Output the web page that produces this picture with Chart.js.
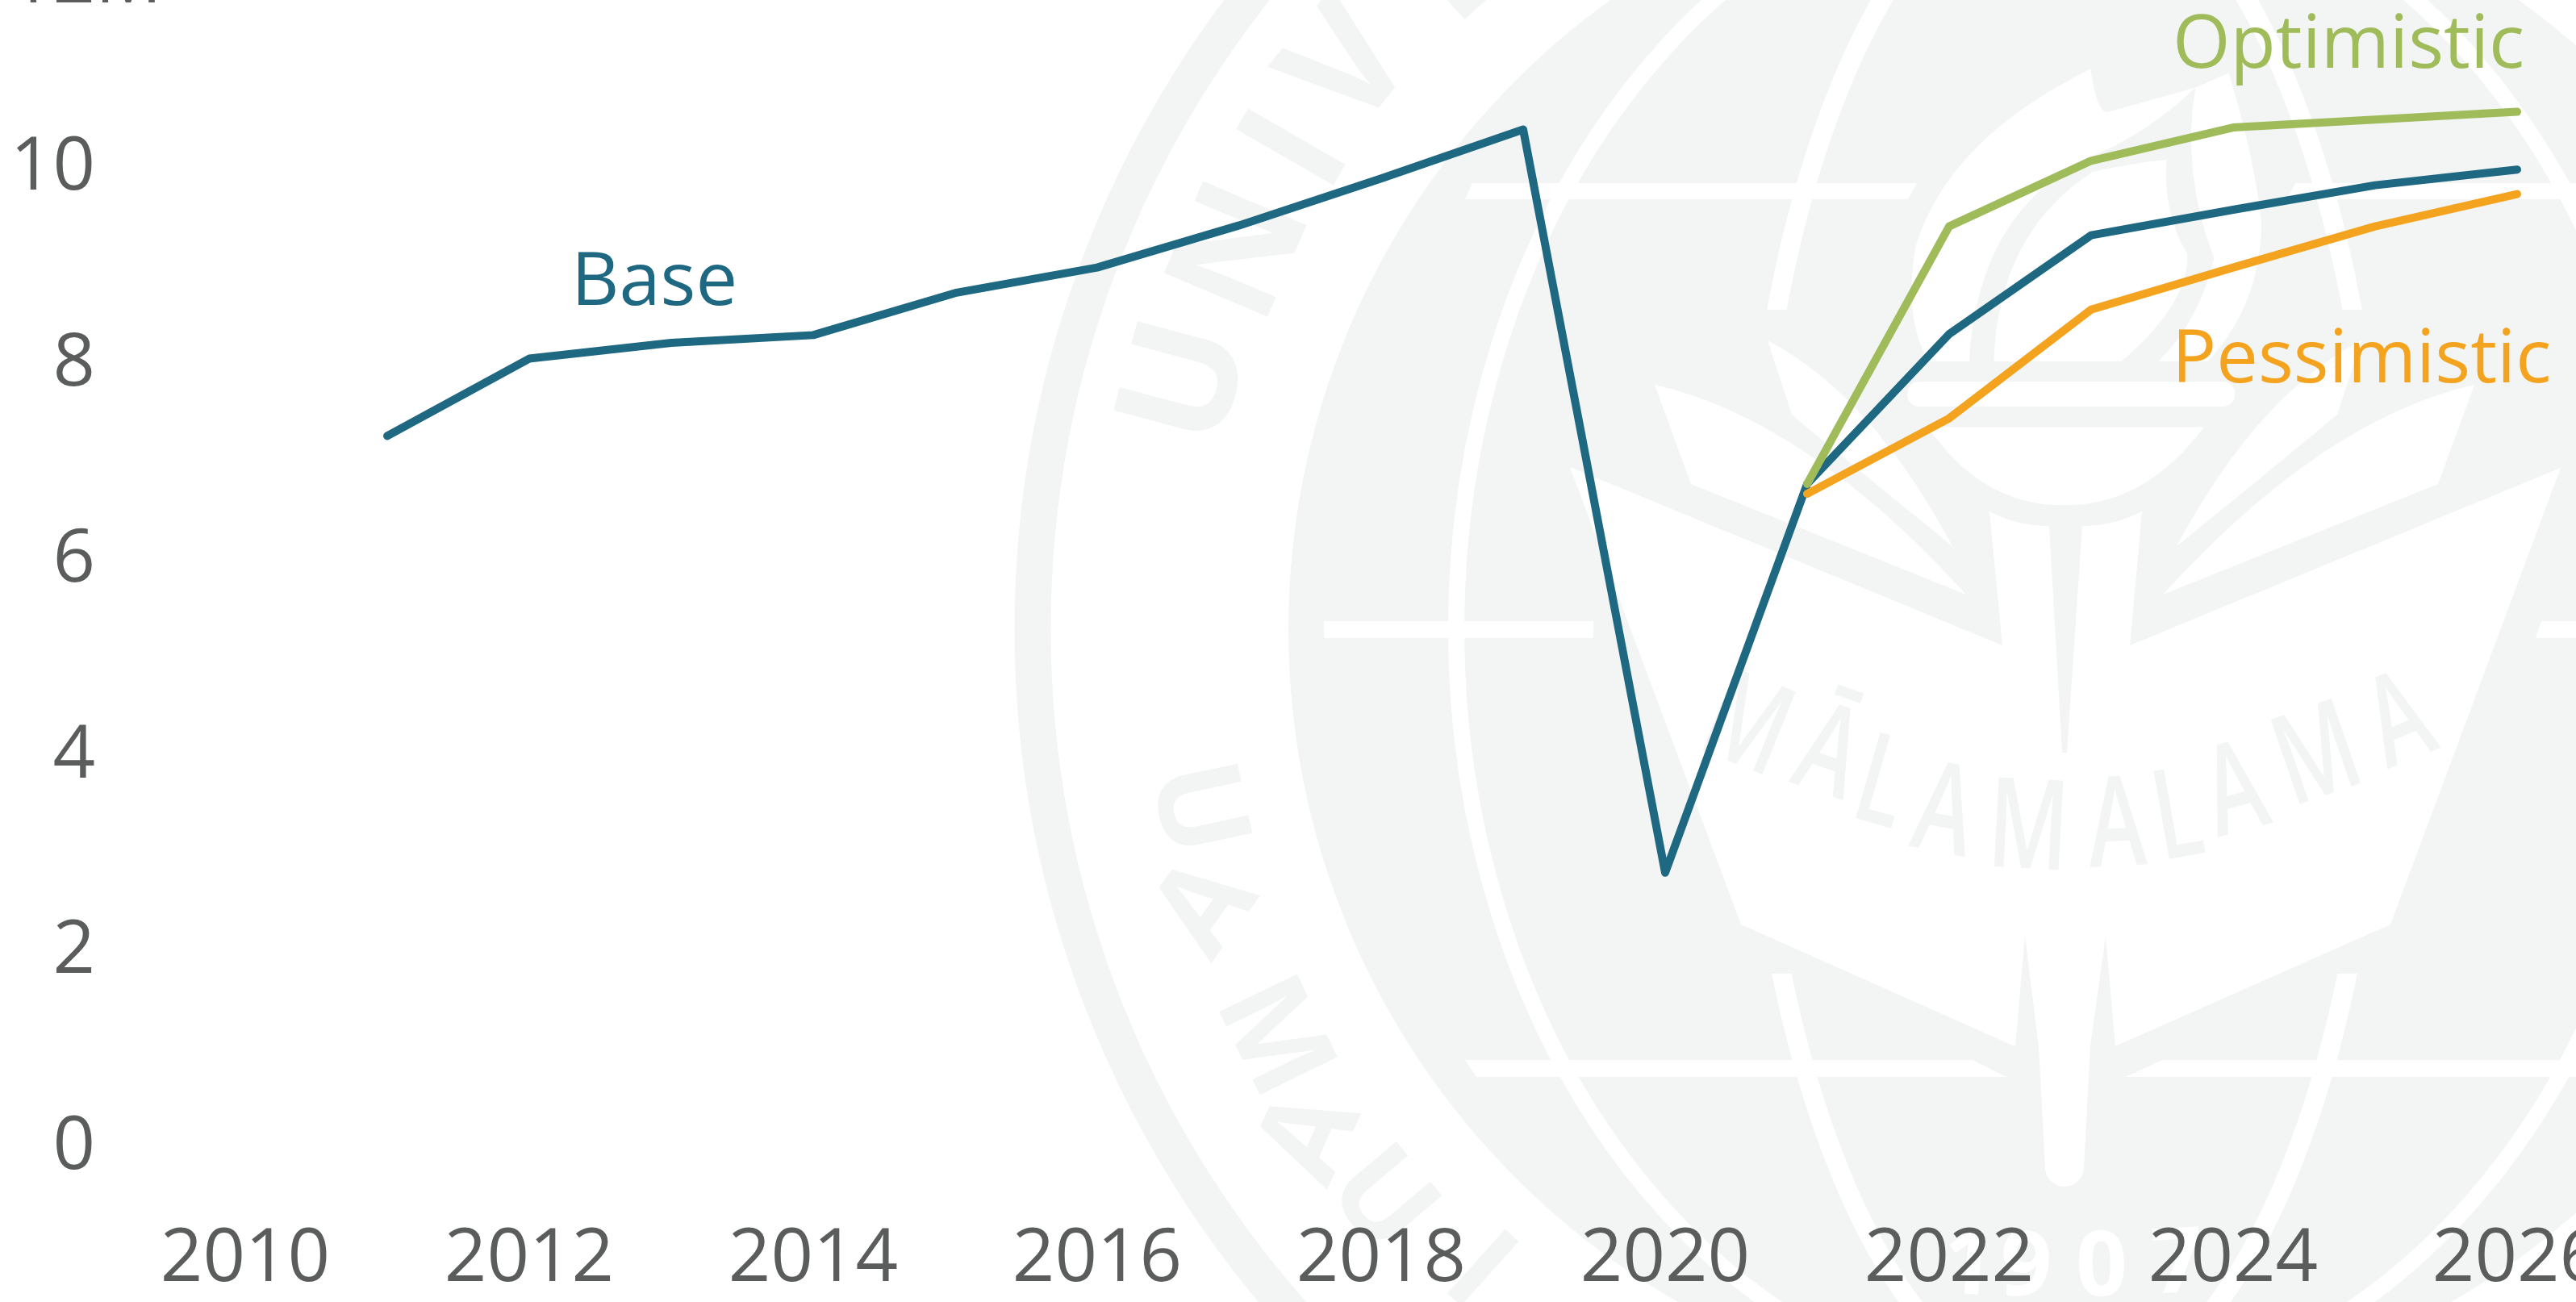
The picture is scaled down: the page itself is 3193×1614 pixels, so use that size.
<!DOCTYPE html>
<html>
<head>
<meta charset="utf-8">
<style>
html,body{margin:0;padding:0;width:3193px;height:1614px;overflow:hidden;background:#fff}
#c{position:absolute;left:0;top:-275px}
</style>
<script src="https://cdn.jsdelivr.net/npm/chart.js@4/dist/chart.umd.min.js"></script>
</head>
<body>
<canvas id="c" width="3400" height="2036" style="width:3400px;height:2036px"></canvas>
<script>
const years = [2011,2012,2013,2014,2015,2016,2017,2018,2019,2020,2021,2022,2023,2024,2025,2026];
const baseValues = [7.27,8.06,8.22,8.3,8.73,8.99,9.42,9.9,10.4,2.81,6.78,8.31,9.32,9.58,9.83,9.99];
const optimisticValues = [null,null,null,null,null,null,null,null,null,null,6.78,9.41,10.08,10.42,10.5,10.58];
const pessimisticValues = [null,null,null,null,null,null,null,null,null,null,6.68,7.45,8.56,8.99,9.41,9.74];
const seriesNames = ['Optimistic','Pessimistic','Base'];
const yTicks = [0,2,4,6,8,10,12];
const topTickLabel = '12M';

const FONT = '"Open Sans"';
const INK = '#5b5d5d', TEAL = '#1f6882', GREEN = '#a0bc5a', ORANGE = '#f4a31f';
const SEAL = '#f3f5f4', OFFY = 275;
const toPts = v => years.map((x,i)=>({x,y:v[i]})).filter(p=>p.y!==null);

function poly(ctx,pts,color){ctx.fillStyle=color;ctx.beginPath();pts.forEach((p,i)=>i?ctx.lineTo(p[0],p[1]):ctx.moveTo(p[0],p[1]));ctx.closePath();ctx.fill();}
function glyph(ctx,ch,x,y,deg,font,color,sx){ctx.save();ctx.translate(x,y);ctx.rotate(deg*Math.PI/180);ctx.scale(sx||1,1);ctx.font=font;ctx.fillStyle=color;ctx.textAlign='center';ctx.textBaseline='middle';ctx.fillText(ch,0,0);ctx.restore();}

const sealPlugin = {
  id:'seal',
  beforeDraw(chart){
    const ctx = chart.ctx, cx=2559, cy=780+OFFY;
    const Y = v=>v+OFFY;
    const ZX = x=>2150+x/1.96, ZY = y=>60+y/1.96+OFFY;
    const path = cmds => {ctx.beginPath();cmds.forEach(c=>{
      if(c.length===2)ctx.lineTo(ZX(c[0]),ZY(c[1]));
      else ctx.quadraticCurveTo(ZX(c[0]),ZY(c[1]),ZX(c[2]),ZY(c[3]));
    });ctx.closePath();ctx.fill();};
    ctx.save();
    ctx.fillStyle='#fff';ctx.fillRect(0,0,chart.width,chart.height);
    ctx.strokeStyle=SEAL;ctx.lineWidth=45;ctx.beginPath();ctx.arc(cx,cy,1279,0,Math.PI*2);ctx.stroke();
    ctx.fillStyle=SEAL;ctx.beginPath();ctx.arc(cx,cy,962,0,Math.PI*2);ctx.fill();
    ctx.strokeStyle='#fff';ctx.lineWidth=20;
    ctx.beginPath();ctx.ellipse(cx,cy,754,955,0,0,Math.PI*2);ctx.stroke();
    ctx.save();ctx.beginPath();ctx.rect(0,0,chart.width,Y(384));ctx.rect(0,Y(1207),chart.width,chart.height);ctx.clip();
    ctx.lineWidth=24;ctx.beginPath();ctx.ellipse(cx,cy,392,955,0,0,Math.PI*2);ctx.stroke();ctx.restore();
    const W='#ffffff';
    poly(ctx,[[1825,Y(227)],[2376,Y(227)],[2365,Y(247)],[1816,Y(247)]],W);
    poly(ctx,[[2845,Y(227)],[3400,Y(227)],[3400,Y(247)],[2835,Y(247)]],W);
    poly(ctx,[[1641,Y(770)],[1975,Y(770)],[1975,Y(791)],[1641,Y(791)]],W);
    poly(ctx,[[3150,Y(770)],[3400,Y(770)],[3400,Y(791)],[3143,Y(791)]],W);
    poly(ctx,[[1816,Y(1314)],[2445,Y(1314)],[2487,Y(1335)],[1830,Y(1335)]],W);
    poly(ctx,[[2680,Y(1314)],[3400,Y(1314)],[3400,Y(1335)],[2635,Y(1335)]],W);
    ctx.fillStyle=W;ctx.beginPath();
    ctx.moveTo(1946,Y(579));ctx.lineTo(2482,Y(800));ctx.lineTo(2466,Y(634));ctx.quadraticCurveTo(2500,Y(652),2540,Y(652));
    ctx.lineTo(2556,Y(933));ctx.lineTo(2562,Y(933));ctx.lineTo(2581,Y(652));ctx.quadraticCurveTo(2620,Y(652),2655,Y(634));
    ctx.lineTo(2640,Y(800));ctx.lineTo(3174,Y(580));ctx.lineTo(2963,Y(1146));ctx.lineTo(2624,Y(1296));ctx.lineTo(2495,Y(1296));ctx.lineTo(2158,Y(1146));ctx.closePath();ctx.fill();
    poly(ctx,[[2510,Y(1160)],[2498,Y(1297)],[2527,Y(1297)]],SEAL);
    poly(ctx,[[2610,Y(1160)],[2591,Y(1297)],[2622,Y(1297)]],SEAL);
    ctx.fillStyle=W;ctx.beginPath();ctx.moveTo(2527,Y(1296));ctx.lineTo(2591,Y(1296));ctx.lineTo(2583,Y(1447));ctx.arc(2559,Y(1447),24,0,Math.PI);ctx.closePath();ctx.fill();
    [1,-1].forEach(s=>{
      const X=v=>cx+s*(v-cx);
      ctx.fillStyle=W;
      ctx.beginPath();ctx.moveTo(X(2051),Y(477));ctx.quadraticCurveTo(X(2240),Y(520),X(2437),Y(737));ctx.lineTo(X(2096),Y(600));ctx.closePath();ctx.fill();
      ctx.beginPath();ctx.moveTo(X(2191),Y(422));ctx.quadraticCurveTo(X(2320),Y(490),X(2420),Y(677));ctx.quadraticCurveTo(X(2300),Y(580),X(2221),Y(514));ctx.closePath();ctx.fill();
    });
    ctx.fillStyle=W;
    path([[865,50],[880,155,905,155],[960,140,1120,95],[1000,210,860,265],[590,400,570,760],[470,760],[410,650,440,480],[520,220,865,50]]);
    path([[630,760],[640,450,870,300],[960,280,1050,270],[1040,400,1100,500],[1105,620,940,760]]);
    path([[1120,95],[1085,300,1165,510],[1130,660,1030,760],[1150,760],[1280,620,1280,420],[1260,250,1200,60]]);
    ctx.beginPath();ctx.roundRect(ZX(420),ZY(810),795/1.96,60/1.96,14);ctx.fill();
    path([[470,920],[1140,920],[1000,1110,800,1110],[600,1110,470,920]]);
    const topF='700 195px '+FONT, lowF='700 150px '+FONT;
    [['U',1476,475,-75],['N',1544,314,-67],['I',1612,189,-60],['V',1676,86,-51],['E',1806,-42,-42]].forEach(([c,x,y,r])=>glyph(ctx,c,x,Y(y),r,topF,SEAL));
    [['U',1480,1003,78],['A',1497,1127,-54],['M',1575,1287,64],['A',1627,1410,-66],['U',1710,1490,50],['I',1831,1579,42]].forEach(([c,x,y,r])=>glyph(ctx,c,x,Y(y),r,lowF,SEAL));
    [['M',2164,904,22],['Ā',2265,939,19],['L',2331,977,16],['A',2409,1012,11],['M',2514,1032,3],['A',2624,1029,-3],['L',2700,1018,-10],['A',2772,986,-15],['M',2874,942,-19],['A',2976,899,-22]].forEach(([c,x,y,r])=>{
      glyph(ctx,c,x,Y(y),r,'600 155px '+FONT,SEAL,.7);
    });
    [['1',2440,1572,4],['9',2511,1574,2],['0',2605,1574,-1],['7',2699,1570,-3]].forEach(([c,x,y,r])=>{
      glyph(ctx,c,x,Y(y),r,'700 112px '+FONT,'#ffffff');
    });
    ctx.restore();
  }
};

const labelPlugin = {
  id:'seriesLabels',
  afterDraw(chart){
    const ctx=chart.ctx;
    ctx.save();
    ctx.font='400 92px '+FONT;ctx.textAlign='left';ctx.textBaseline='alphabetic';
    ctx.fillStyle=TEAL;ctx.fillText(seriesNames[2],708,378+OFFY);
    ctx.fillStyle=GREEN;ctx.fillText(seriesNames[0],2693,84+OFFY);
    ctx.fillStyle=ORANGE;ctx.fillText(seriesNames[1],2692,474+OFFY);
    const ys=chart.scales.y;
    ctx.fillStyle=INK;
    const w=ctx.measureText('10').width;
    ctx.fillText(topTickLabel,ys.right-ys.options.ticks.padding-w,3+OFFY);
    ctx.restore();
  }
};

new Chart(document.getElementById('c'),{
  type:'line',
  data:{datasets:[
    {label:seriesNames[0],data:toPts(optimisticValues),borderColor:GREEN},
    {label:seriesNames[1],data:toPts(pessimisticValues),borderColor:ORANGE},
    {label:seriesNames[2],data:toPts(baseValues),borderColor:TEAL}
  ].map(d=>Object.assign(d,{borderWidth:10,borderCapStyle:'round',borderJoinStyle:'round',pointRadius:0,tension:0,fill:false,clip:false}))},
  plugins:[sealPlugin,labelPlugin],
  options:{
    responsive:false,animation:false,devicePixelRatio:1,
    layout:{padding:{top:111,right:280,bottom:0,left:0}},
    plugins:{legend:{display:false},tooltip:{enabled:false},title:{display:false}},
    scales:{
      x:{type:'linear',min:2010,max:2026,
        grid:{display:false,drawTicks:false},border:{display:false},
        afterFit(s){s.height=338;},
        ticks:{stepSize:2,autoSkip:false,maxRotation:0,minRotation:0,padding:84,color:INK,font:{family:FONT,size:92,weight:400},callback:v=>String(v)}},
      y:{type:'linear',min:0,max:12,
        grid:{display:false,drawTicks:false},border:{display:false},
        afterBuildTicks(s){s.ticks=yTicks.map(value=>({value}));},
        afterFit(s){s.width=304;},
        ticks:{padding:186,color:INK,font:{family:FONT,size:92,weight:400},callback:v=>v===12?'':String(v)}}
    }
  }
});
</script>
</body>
</html>
